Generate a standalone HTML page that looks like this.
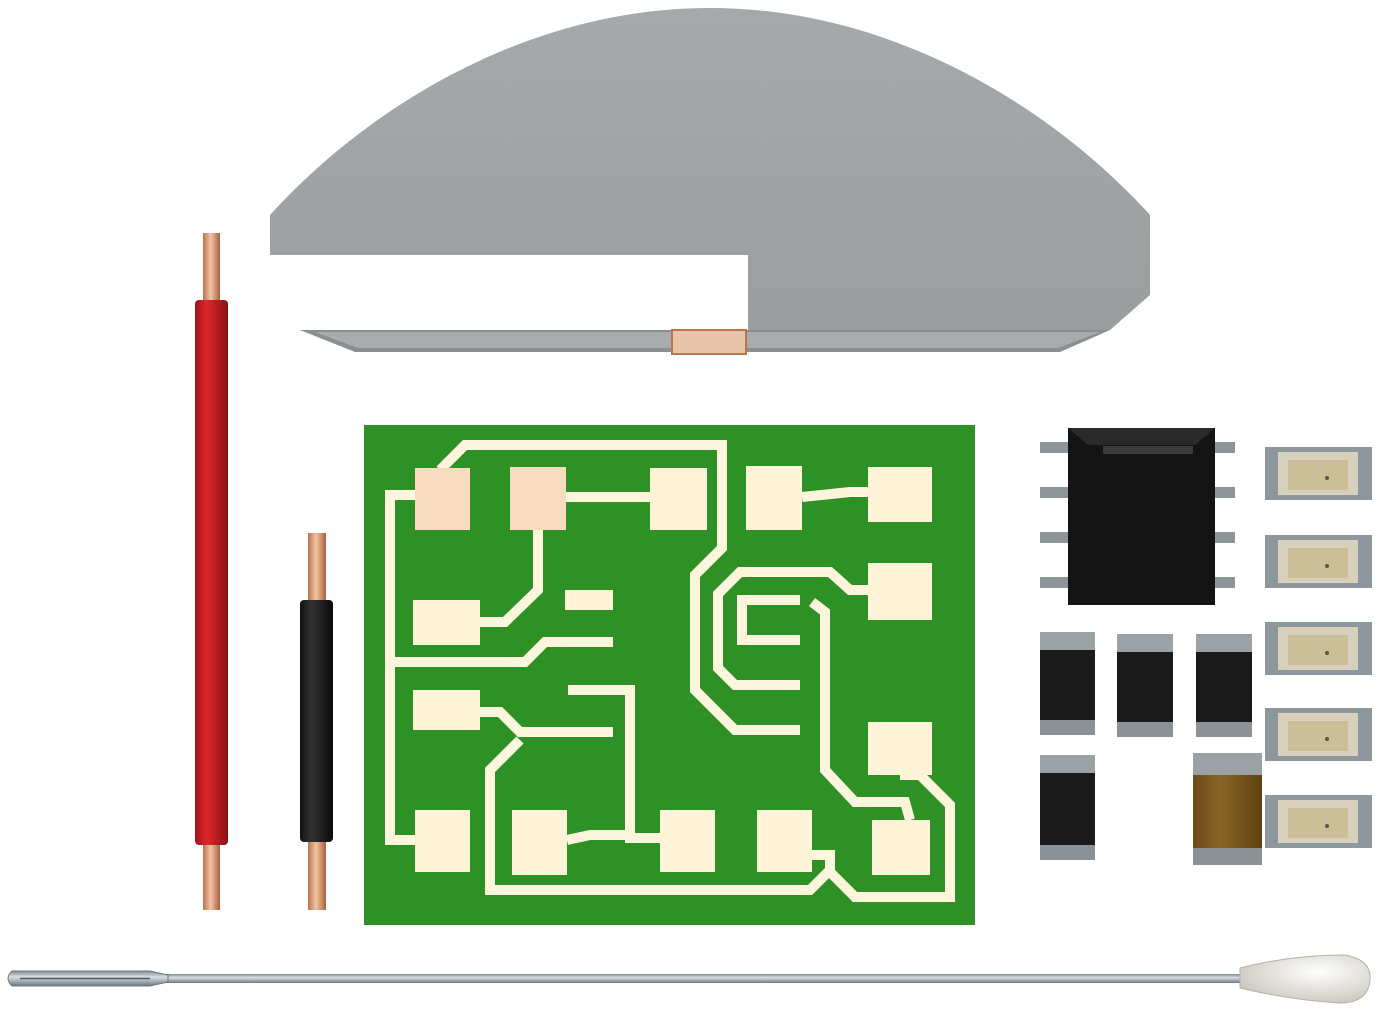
<!DOCTYPE html>
<html><head><meta charset="utf-8"><style>
html,body{margin:0;padding:0;background:#fff;}
svg{display:block;}
</style></head><body>
<svg width="1379" height="1010" viewBox="0 0 1379 1010">
<defs>
<linearGradient id="cu" x1="0" x2="1"><stop offset="0" stop-color="#b8754f"/><stop offset=".45" stop-color="#f3c2a3"/><stop offset="1" stop-color="#a8603d"/></linearGradient>
<linearGradient id="red" x1="0" x2="1"><stop offset="0" stop-color="#9c141a"/><stop offset=".35" stop-color="#e0262b"/><stop offset="1" stop-color="#8a1015"/></linearGradient>
<linearGradient id="blk" x1="0" x2="1"><stop offset="0" stop-color="#111"/><stop offset=".35" stop-color="#333"/><stop offset="1" stop-color="#0a0a0a"/></linearGradient>
<linearGradient id="dome" x1="0" y1="0" x2="0" y2="1"><stop offset="0" stop-color="#a6a9aa"/><stop offset="1" stop-color="#9b9e9f"/></linearGradient>
<linearGradient id="rod" x1="0" y1="0" x2="0" y2="1"><stop offset="0" stop-color="#7d8a90"/><stop offset=".4" stop-color="#d9e0e3"/><stop offset="1" stop-color="#6c777c"/></linearGradient>
<radialGradient id="bulb" cx=".6" cy=".35" r=".7"><stop offset="0" stop-color="#ffffff"/><stop offset="1" stop-color="#c9c6bd"/></radialGradient>
<linearGradient id="tan" x1="0" x2="1"><stop offset="0" stop-color="#6b4a18"/><stop offset=".4" stop-color="#8a6426"/><stop offset="1" stop-color="#5e4012"/></linearGradient>
</defs>

<g>
<path d="M270,215 C370,105 530,8 710,8 C890,8 1050,105 1150,215 L1150,295 L1110,330 L270,330 Z" fill="url(#dome)"/>
<path d="M300,330 L1110,330 L1060,352 L355,352 Z" fill="#8c8f90"/>
<path d="M315,332 L1100,332 L1058,348 L358,348 Z" fill="#a9acad"/>
<rect x="270" y="255" width="478" height="75" fill="#ffffff"/>
<rect x="672" y="330" width="74" height="24" fill="#e8c4aa" stroke="#b8754f" stroke-width="2"/>
</g>

<g>
<rect x="203" y="233" width="17" height="677" fill="url(#cu)"/>
<rect x="195" y="300" width="33" height="545" rx="4" fill="url(#red)"/>
</g>
<g>
<rect x="308" y="533" width="18" height="377" fill="url(#cu)"/>
<rect x="300" y="600" width="33" height="242" rx="4" fill="url(#blk)"/>
</g>

<g>
<rect x="364" y="425" width="611" height="500" fill="#2d9126"/>
<g fill="none" stroke="#fdf6dc" stroke-width="10" stroke-linejoin="miter">
<polyline points="415,495 390,495 390,840 415,840"/>
<polyline points="440,470 465,445 722,445 722,548 695,575 695,690 735,730 800,730"/>
<polyline points="566,497 650,497"/>
<polyline points="538,530 538,590 505,622 480,622"/>
<polyline points="395,662 525,662 545,642 613,642"/>
<polyline points="480,712 500,712 520,732 613,732"/>
<polyline points="568,690 630,690 630,838 660,838"/>
<polyline points="567,840 590,835 630,835"/>
<polyline points="520,740 490,770 490,890 810,890 830,870 830,855 812,855"/>
<polyline points="802,497 850,492 868,492"/>
<polyline points="868,590 850,590 830,572 740,572 718,594 718,668 735,685 800,685"/>
<polyline points="800,600 742,600 742,640 800,640"/>
<polyline points="812,602 825,612 825,770 855,802 905,802 910,820"/>
<polyline points="900,775 920,775 950,805 950,897 855,897 830,872"/>
</g>
<g fill="#fdf3d6">
<rect x="415" y="468" width="55" height="62" fill="#f7dcc0"/>
<rect x="510" y="467" width="56" height="63" fill="#f7dcc0"/>
<rect x="650" y="468" width="57" height="62"/>
<rect x="746" y="466" width="56" height="64"/>
<rect x="868" y="467" width="64" height="55"/>
<rect x="868" y="563" width="64" height="57"/>
<rect x="413" y="600" width="67" height="45"/>
<rect x="565" y="590" width="48" height="20"/>
<rect x="413" y="690" width="67" height="40"/>
<rect x="868" y="722" width="64" height="53"/>
<rect x="415" y="810" width="55" height="62"/>
<rect x="512" y="810" width="55" height="65"/>
<rect x="660" y="810" width="55" height="62"/>
<rect x="757" y="810" width="55" height="62"/>
<rect x="872" y="820" width="58" height="55"/>
</g>
</g>

<g>
<g fill="#8d9599">
<rect x="1040" y="442" width="30" height="11"/><rect x="1040" y="487" width="30" height="11"/><rect x="1040" y="532" width="30" height="11"/><rect x="1040" y="577" width="30" height="11"/>
<rect x="1213" y="442" width="22" height="11"/><rect x="1213" y="487" width="22" height="11"/><rect x="1213" y="532" width="22" height="11"/><rect x="1213" y="577" width="22" height="11"/>
</g>
<rect x="1068" y="428" width="147" height="177" fill="#141414"/>
<path d="M1068,428 L1215,428 L1195,445 L1088,445 Z" fill="#2a2a2a"/>
<rect x="1103" y="446" width="90" height="8" fill="#3a3a3a"/>
</g>

<g>
<g><rect x="1040" y="632" width="55" height="103" fill="#1a1a1a"/><rect x="1040" y="632" width="55" height="18" fill="#9aa2a6"/><rect x="1040" y="720" width="55" height="15" fill="#8a9296"/></g>
<g><rect x="1117" y="634" width="56" height="103" fill="#1a1a1a"/><rect x="1117" y="634" width="56" height="18" fill="#9aa2a6"/><rect x="1117" y="722" width="56" height="15" fill="#8a9296"/></g>
<g><rect x="1196" y="634" width="56" height="103" fill="#1a1a1a"/><rect x="1196" y="634" width="56" height="18" fill="#9aa2a6"/><rect x="1196" y="722" width="56" height="15" fill="#8a9296"/></g>
<g><rect x="1040" y="755" width="55" height="105" fill="#1a1a1a"/><rect x="1040" y="755" width="55" height="18" fill="#9aa2a6"/><rect x="1040" y="845" width="55" height="15" fill="#8a9296"/></g>
</g>

<g>
<rect x="1193" y="753" width="69" height="112" fill="url(#tan)"/>
<rect x="1193" y="753" width="69" height="22" fill="#9aa2a6"/>
<rect x="1193" y="848" width="69" height="17" fill="#8a9296"/>
</g>

<g>
<g transform="translate(0,0)"><rect x="1265" y="447" width="107" height="53" fill="#8e979b"/><rect x="1278" y="452" width="80" height="43" fill="#d7d0bc"/><rect x="1288" y="460" width="60" height="30" fill="#c9b98d" opacity=".8"/><circle cx="1327" cy="478" r="2" fill="#555"/></g>
<g transform="translate(0,88)"><rect x="1265" y="447" width="107" height="53" fill="#8e979b"/><rect x="1278" y="452" width="80" height="43" fill="#d7d0bc"/><rect x="1288" y="460" width="60" height="30" fill="#c9b98d" opacity=".8"/><circle cx="1327" cy="478" r="2" fill="#555"/></g>
<g transform="translate(0,175)"><rect x="1265" y="447" width="107" height="53" fill="#8e979b"/><rect x="1278" y="452" width="80" height="43" fill="#d7d0bc"/><rect x="1288" y="460" width="60" height="30" fill="#c9b98d" opacity=".8"/><circle cx="1327" cy="478" r="2" fill="#555"/></g>
<g transform="translate(0,261)"><rect x="1265" y="447" width="107" height="53" fill="#8e979b"/><rect x="1278" y="452" width="80" height="43" fill="#d7d0bc"/><rect x="1288" y="460" width="60" height="30" fill="#c9b98d" opacity=".8"/><circle cx="1327" cy="478" r="2" fill="#555"/></g>
<g transform="translate(0,348)"><rect x="1265" y="447" width="107" height="53" fill="#8e979b"/><rect x="1278" y="452" width="80" height="43" fill="#d7d0bc"/><rect x="1288" y="460" width="60" height="30" fill="#c9b98d" opacity=".8"/><circle cx="1327" cy="478" r="2" fill="#555"/></g>
</g>

<g>
<rect x="150" y="974" width="1100" height="9" fill="url(#rod)"/>
<path d="M12,971 L150,971 L168,975 L168,982 L150,986 L12,986 Q4,978.5 12,971 Z" fill="url(#rod)" stroke="#6d787d" stroke-width="1"/>
<line x1="20" y1="978.5" x2="150" y2="978.5" stroke="#556" stroke-width="1.5"/>
<path d="M1240,968 Q1290,955 1345,955 Q1372,960 1370,980 Q1368,1003 1340,1003 Q1290,1000 1240,988 Z" fill="url(#bulb)" stroke="#b5b2a8" stroke-width="1"/>
</g>
</svg>
</body></html>
